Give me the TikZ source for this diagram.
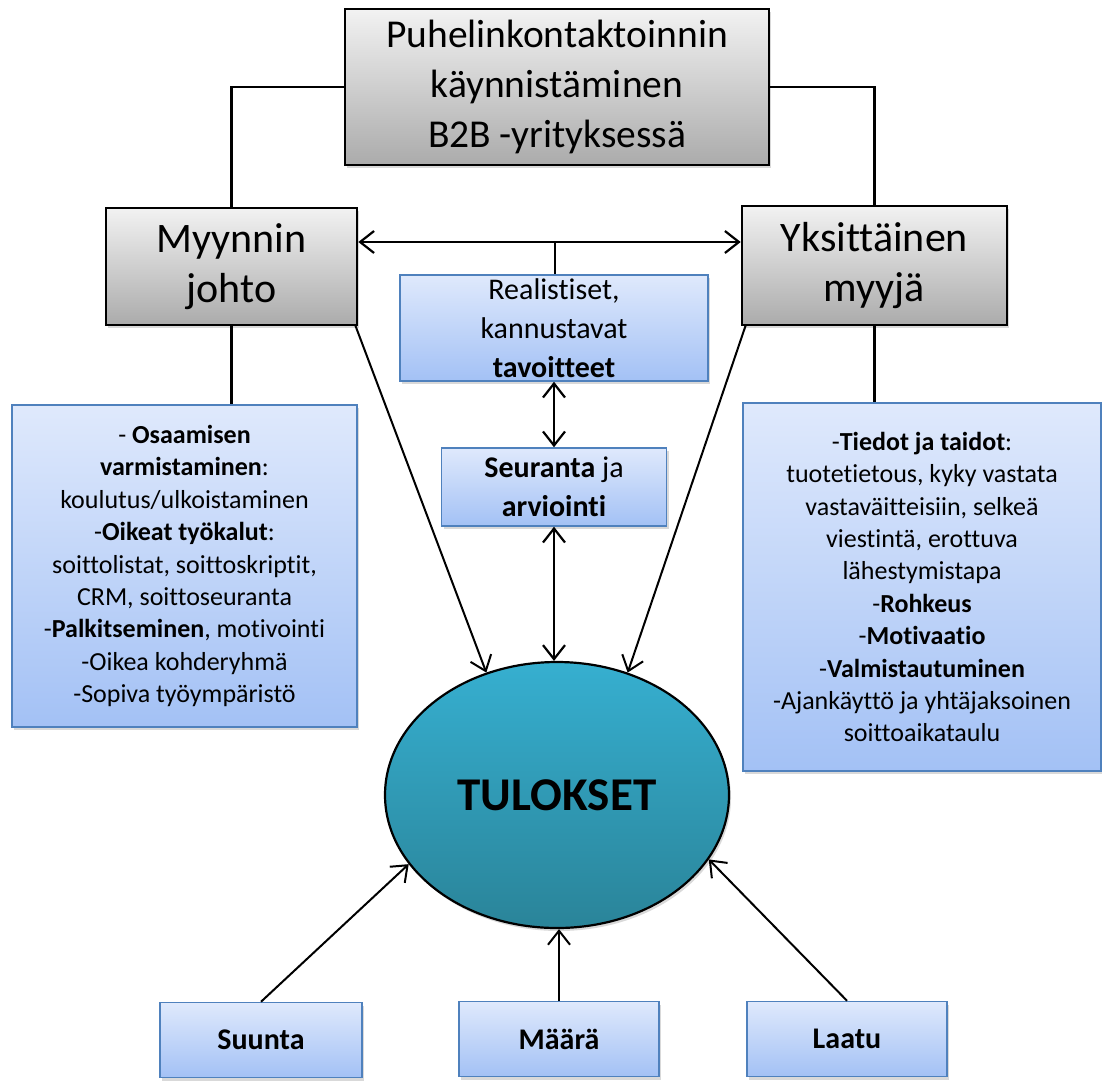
\documentclass[tikz,border=0pt]{standalone}
\usepackage{fontspec}
\setmainfont{Carlito}[Ligatures=NoCommon]
\usetikzlibrary{arrows.meta,shadows,shapes.geometric}
\definecolor{btop}{HTML}{DFE9FC}
\definecolor{bbot}{HTML}{A3C1F5}
\definecolor{bborder}{HTML}{4F81BD}
\definecolor{gtop}{HTML}{F2F2F2}
\definecolor{gbot}{HTML}{ABABAB}
\definecolor{etop}{HTML}{36AFD0}
\definecolor{ebot}{HTML}{2A8499}
\begin{document}
\begin{tikzpicture}[x=1pt,y=-1pt,
  shad/.style={drop shadow={shadow xshift=2pt,shadow yshift=-3pt,opacity=0.3}},
  graybox/.style={draw=black,line width=2.6pt,top color=gtop,bottom color=gbot,shad,inner sep=0pt,align=center},
  bluebox/.style={draw=bborder,line width=1.5pt,top color=btop,bottom color=bbot,shad,inner sep=0pt,align=center},
  bigtxt/.style={font=\fontsize{42}{50}\selectfont},
  midtxt/.style={font=\fontsize{30}{39}\selectfont},
  smalltxt/.style={font=\fontsize{26}{32.4}\selectfont},
  conn/.style={line width=2.3pt},
  tip/.style={line width=2pt,arrows={-Straight Barb[length=14pt,width=22pt,line width=2pt]}},
  dbl/.style={line width=2.3pt,arrows={Straight Barb[length=14pt,width=22pt,line width=2.2pt]-Straight Barb[length=14pt,width=22pt,line width=2.2pt]}}
]
\useasboundingbox (0,0) rectangle (1102,1081);

\node[graybox,font=\fontsize{39.5}{50}\selectfont,minimum width=424,minimum height=156] (top) at (557,87)
  {Puhelinkontaktoinnin\\käynnistäminen\\B2B -yrityksessä};
\node[graybox,bigtxt,minimum width=251,minimum height=117] (myy) at (231.5,266.5)
  {Myynnin\\johto};
\node[graybox,bigtxt,minimum width=265,minimum height=119] (yks) at (874.5,265.5)
  {Yksittäinen\\myyjä};

\node[bluebox,midtxt,minimum width=308,minimum height=106] (real) at (554,328)
  {\raisebox{-4pt}{\parbox{300pt}{\centering Realistiset,\\kannustavat\\\textbf{tavoitteet}}}};
\node[bluebox,midtxt,minimum width=225,minimum height=78] (seu) at (554,487)
  {\textbf{Seuranta} ja\\\textbf{arviointi}};

\node[bluebox,smalltxt,minimum width=345,minimum height=322] (lbox) at (184.5,566)
  {- \textbf{Osaamisen}\\\textbf{varmistaminen}:\\koulutus/ulkoistaminen\\-\textbf{Oikeat työkalut}:\\soittolistat, soittoskriptit,\\CRM, soittoseuranta\\-\textbf{Palkitseminen}, motivointi\\-Oikea kohderyhmä\\-Sopiva työympäristö};
\node[bluebox,smalltxt,minimum width=358,minimum height=368] (rbox) at (922,587)
  {-\textbf{Tiedot ja taidot}:\\tuotetietous, kyky vastata\\vastaväitteisiin, selkeä\\viestintä, erottuva\\lähestymistapa\\-\textbf{Rohkeus}\\-\textbf{Motivaatio}\\-\textbf{Valmistautuminen}\\-Ajankäyttö ja yhtäjaksoinen\\soittoaikataulu};

\node[ellipse,draw=black,line width=2.2pt,top color=etop,bottom color=ebot,shad,inner sep=0pt,
  minimum width=344,minimum height=266,font=\fontsize{47}{50}\selectfont\bfseries] (ell) at (557,795) {TULOKSET};

\node[bluebox,font=\fontsize{30}{36}\selectfont\bfseries,minimum width=202,minimum height=75] (suu) at (261,1040) {Suunta};
\node[bluebox,font=\fontsize{30}{36}\selectfont\bfseries,minimum width=200,minimum height=75] (maa) at (559,1039) {Määrä};
\node[bluebox,font=\fontsize{30}{36}\selectfont\bfseries,minimum width=200,minimum height=75] (laa) at (847,1039) {Laatu};

% connectors
\draw[conn] (top.west) -| (myy.north);
\draw[conn] (top.east) -| (yks.north);
\coordinate (hy) at (555,242);
\draw[dbl] (myy.east |- hy) -- (yks.west |- hy);
\draw[conn] (hy) -- (hy |- real.north);
\draw[conn] (myy.south) -- (myy.south |- lbox.north);
\draw[conn] (yks.south) -- (yks.south |- rbox.north);
\draw[dbl] (real.south) -- (real.south |- seu.north);
\draw[dbl] (seu.south) -- (seu.south |- ell.north);
\draw[tip] ([xshift=-3pt,yshift=1pt]myy.south east) -- (ell.120);
\draw[tip] ([xshift=5pt,yshift=1pt]yks.south west) -- (ell.60);
\draw[tip] (suu.north) -- (ell.205);
\draw[tip] (maa.north) -- (maa.north |- ell.south);
\draw[tip] (laa.north) -- (ell.337);
\end{tikzpicture}
\end{document}
